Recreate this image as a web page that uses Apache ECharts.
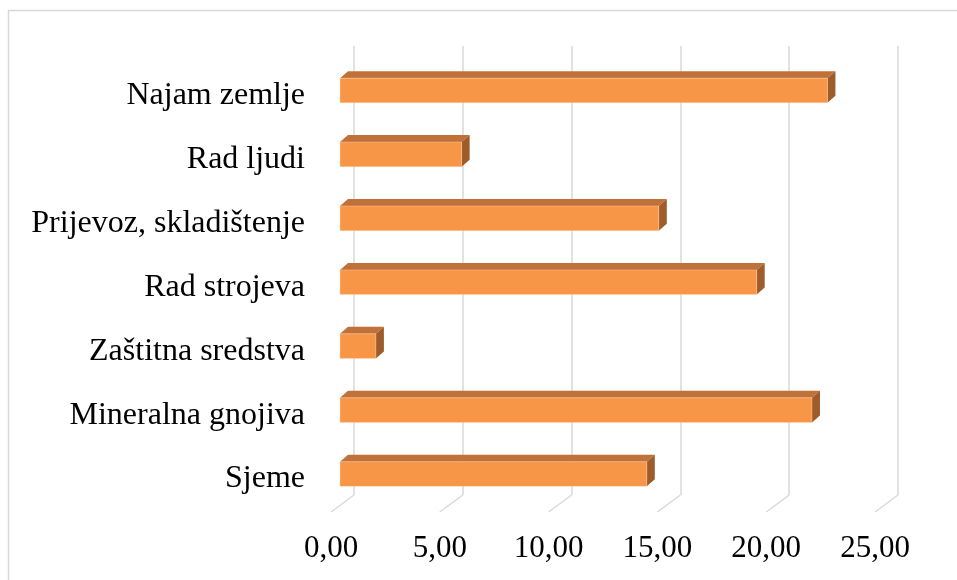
<!DOCTYPE html>
<html>
<head>
<meta charset="utf-8">
<script src="https://cdn.jsdelivr.net/npm/echarts@6/dist/echarts.min.js"></script>
<style>
  html, body { margin: 0; padding: 0; background: #fff; }
  #chart { width: 957px; height: 580px; }
</style>
</head>
<body>
<div id="chart"></div>
<script>
const categories = ['Najam zemlje', 'Rad ljudi', 'Prijevoz, skladištenje', 'Rad strojeva', 'Zaštitna sredstva', 'Mineralna gnojiva', 'Sjeme'];
const values = [22.40, 5.59, 14.65, 19.15, 1.65, 21.69, 14.10];
const xTicks = [0, 5, 10, 15, 20, 25];

const font = "'Liberation Serif', 'Times New Roman', serif";
const gridColor = '#d9d9d9';

// 3d offsets (px)
const depthX = 8, depthY = 7;
const floorX = 23, floorY = 17;

const chart = echarts.init(document.getElementById('chart'));

// bar: front face + top + right side
function renderBar(params, api) {
  const cat = api.value(1);
  const start = api.coord([0, cat]);
  const end = api.coord([api.value(0), cat]);
  const h = api.size([0, 1])[1] * 0.385;
  const x0 = start[0], x1 = end[0];
  const y0 = start[1] - h / 2, y1 = start[1] + h / 2;
  return {
    type: 'group',
    children: [
      {
        type: 'polygon',
        shape: { points: [[x0, y0], [x1, y0], [x1 + depthX, y0 - depthY], [x0 + depthX, y0 - depthY]] },
        style: { fill: '#c0713a' }
      },
      {
        type: 'polygon',
        shape: { points: [[x1, y0], [x1, y1], [x1 + depthX, y1 - depthY], [x1 + depthX, y0 - depthY]] },
        style: { fill: '#9e5c2a' }
      },
      {
        type: 'rect',
        shape: { x: x0, y: y0, width: x1 - x0, height: h },
        style: { fill: '#f79646', stroke: 'rgba(255,220,190,0.6)', lineWidth: 0.6 }
      }
    ]
  };
}

// floor lines running from back wall to front
function renderFloor(params, api) {
  const p = api.coord([api.value(0), 0]);
  return {
    type: 'line',
    shape: { x1: p[0], y1: p[1], x2: p[0] - floorX, y2: p[1] + floorY },
    style: { stroke: gridColor, lineWidth: 1.5 }
  };
}

chart.setOption({
  animation: false,
  graphic: [{
    type: 'rect',
    shape: { x: 8.5, y: 10.5, width: 1200, height: 1200 },
    style: { fill: 'none', stroke: gridColor, lineWidth: 1.5 },
    silent: true
  }],
  grid: [
    { left: 354, top: 46, width: 544, height: 449 },    // back wall
    { left: 331, top: 100, width: 544, height: 412 },   // front floor edge (value labels)
    { left: 340, top: 58.5, width: 544, height: 447.5 }, // bar front faces
    { left: 340, top: 63.5, width: 544, height: 447.5 }  // category labels (sit a bit lower)
  ],
  xAxis: [
    {
      gridIndex: 0, type: 'value', min: 0, max: 25, interval: 5,
      axisLine: { show: false }, axisTick: { show: false }, axisLabel: { show: false },
      splitLine: { show: true, lineStyle: { color: gridColor, width: 1.5 } }
    },
    {
      gridIndex: 1, type: 'value', min: 0, max: 25, interval: 5,
      axisLine: { show: false }, axisTick: { show: false }, splitLine: { show: false },
      axisLabel: {
        margin: 21,
        fontFamily: font, fontSize: 31, color: '#000',
        formatter: v => v.toFixed(2).replace('.', ',')
      }
    },
    { gridIndex: 2, type: 'value', min: 0, max: 25, show: false },
    { gridIndex: 3, type: 'value', min: 0, max: 25, show: false }
  ],
  yAxis: [
    { gridIndex: 0, type: 'value', min: 0, max: 1, show: false },
    { gridIndex: 1, type: 'value', min: 0, max: 1, show: false },
    { gridIndex: 2, type: 'category', data: categories, inverse: true, show: false },
    {
      gridIndex: 3, type: 'category', data: categories, inverse: true,
      axisLine: { show: false }, axisTick: { show: false }, splitLine: { show: false },
      axisLabel: { margin: 35, fontFamily: font, fontSize: 32, color: '#000' }
    }
  ],
  series: [
    {
      type: 'custom', xAxisIndex: 0, yAxisIndex: 0,
      renderItem: renderFloor,
      data: xTicks.map(v => [v]),
      silent: true
    },
    {
      type: 'custom', xAxisIndex: 2, yAxisIndex: 2,
      renderItem: renderBar,
      encode: { x: 0, y: 1 },
      data: values.map((v, i) => [v, i]),
      z: 3
    }
  ]
});
</script>
</body>
</html>
